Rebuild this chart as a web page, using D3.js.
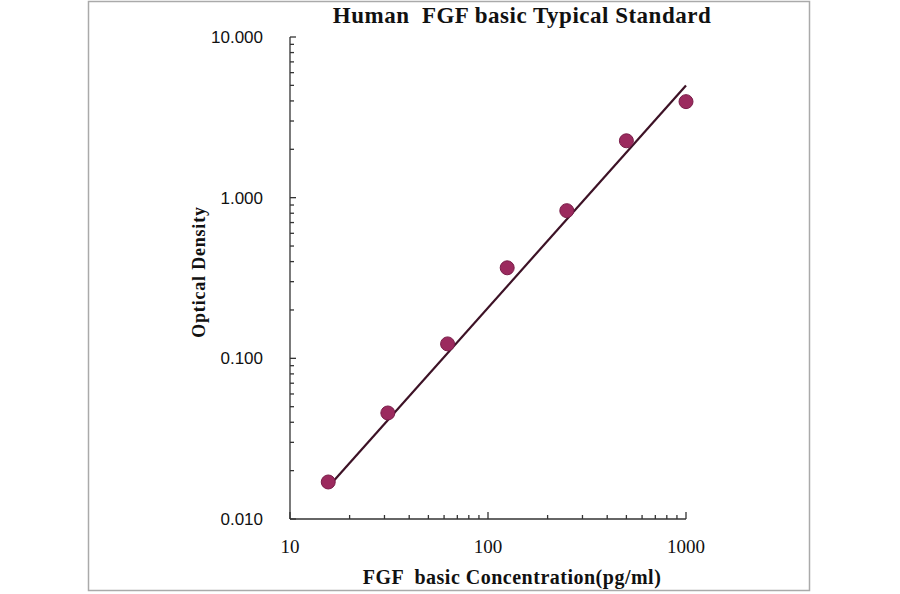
<!DOCTYPE html>
<html><head><meta charset="utf-8">
<script src="https://cdn.jsdelivr.net/npm/d3@7"></script>
<style>body{margin:0;background:#fff} text{white-space:pre}</style>
</head><body><div id="chart"></div>
<script>
const concentrations = [15.6, 31.2, 62.5, 125, 250, 500, 1000];
const densities = [0.017, 0.0457, 0.123, 0.366, 0.83, 2.26, 3.96];
const fitX = [15.6, 1000];
const fitY = [0.0158, 4.99];
const xTicks = [10, 100, 1000];
const yTicks = [0.01, 0.1, 1, 10];

const width = 900, height = 594;
const svg = d3.select("#chart").append("svg")
    .attr("width", width).attr("height", height);

svg.append("rect").attr("x", 88.5).attr("y", 1.5).attr("width", 721).attr("height", 589)
    .attr("fill", "#fff").attr("stroke", "#aaa").attr("stroke-width", 1.5);

const x = d3.scaleLog().domain([10, 1000]).range([290, 686]);
const y = d3.scaleLog().domain([0.01, 10]).range([519, 37]);

// minor ticks
const xMinor = x.ticks().filter(v => !xTicks.includes(v));
const yMinor = y.ticks().filter(v => !yTicks.some(t => Math.abs(t - v) < 1e-9));

const g = svg.append("g").attr("stroke", "#333").attr("stroke-width", 1.3);
g.append("line").attr("x1", 290).attr("x2", 290).attr("y1", y(10)).attr("y2", y(0.01));
g.append("line").attr("x1", 290).attr("x2", x(1000)).attr("y1", 519).attr("y2", 519);
g.selectAll(".xm").data(xMinor).enter().append("line")
    .attr("x1", d => x(d)).attr("x2", d => x(d)).attr("y1", 519).attr("y2", 515);
g.selectAll(".xM").data(xTicks).enter().append("line")
    .attr("x1", d => x(d)).attr("x2", d => x(d)).attr("y1", 519).attr("y2", 512);
g.selectAll(".ym").data(yMinor).enter().append("line")
    .attr("x1", 290).attr("x2", 294).attr("y1", d => y(d)).attr("y2", d => y(d));
g.selectAll(".yM").data(yTicks).enter().append("line")
    .attr("x1", 290).attr("x2", 296).attr("y1", d => y(d)).attr("y2", d => y(d));

svg.selectAll(".xl").data(xTicks).enter().append("text")
    .attr("x", d => x(d)).attr("y", 553).attr("text-anchor", "middle")
    .attr("font-family", "Liberation Serif").attr("font-size", 19).attr("fill", "#111")
    .text(d => d);
svg.selectAll(".yl").data(yTicks).enter().append("text")
    .attr("x", 263).attr("y", d => y(d) + 6).attr("text-anchor", "end")
    .attr("font-family", "Liberation Sans").attr("font-size", 17).attr("fill", "#111")
    .text(d => d.toFixed(3));

svg.append("text").attr("x", 522).attr("y", 23).attr("text-anchor", "middle")
    .attr("font-family", "Liberation Serif").attr("font-weight", "bold").attr("font-size", 23)
    .attr("letter-spacing", 0.5).attr("fill", "#111").text("Human  FGF basic Typical Standard");
svg.append("text").attr("x", 512).attr("y", 584).attr("text-anchor", "middle")
    .attr("font-family", "Liberation Serif").attr("font-weight", "bold").attr("font-size", 20)
    .attr("letter-spacing", 0.5).attr("fill", "#111").text("FGF  basic Concentration(pg/ml)");
svg.append("text").attr("transform", "translate(205,272) rotate(-90)").attr("text-anchor", "middle")
    .attr("font-family", "Liberation Serif").attr("font-weight", "bold").attr("font-size", 18)
    .attr("letter-spacing", 0.8).attr("fill", "#111").text("Optical Density");

svg.append("path")
    .datum(fitX.map((v, i) => [v, fitY[i]]))
    .attr("d", d3.line().x(d => x(d[0])).y(d => y(d[1])))
    .attr("stroke", "#3d1226").attr("stroke-width", 2.2).attr("fill", "none");

svg.selectAll(".pt").data(concentrations).enter().append("circle")
    .attr("cx", d => x(d)).attr("cy", (d, i) => y(densities[i])).attr("r", 7)
    .attr("fill", "#9b2a5e").attr("stroke", "#7a1d49").attr("stroke-width", 1);
</script></body></html>
